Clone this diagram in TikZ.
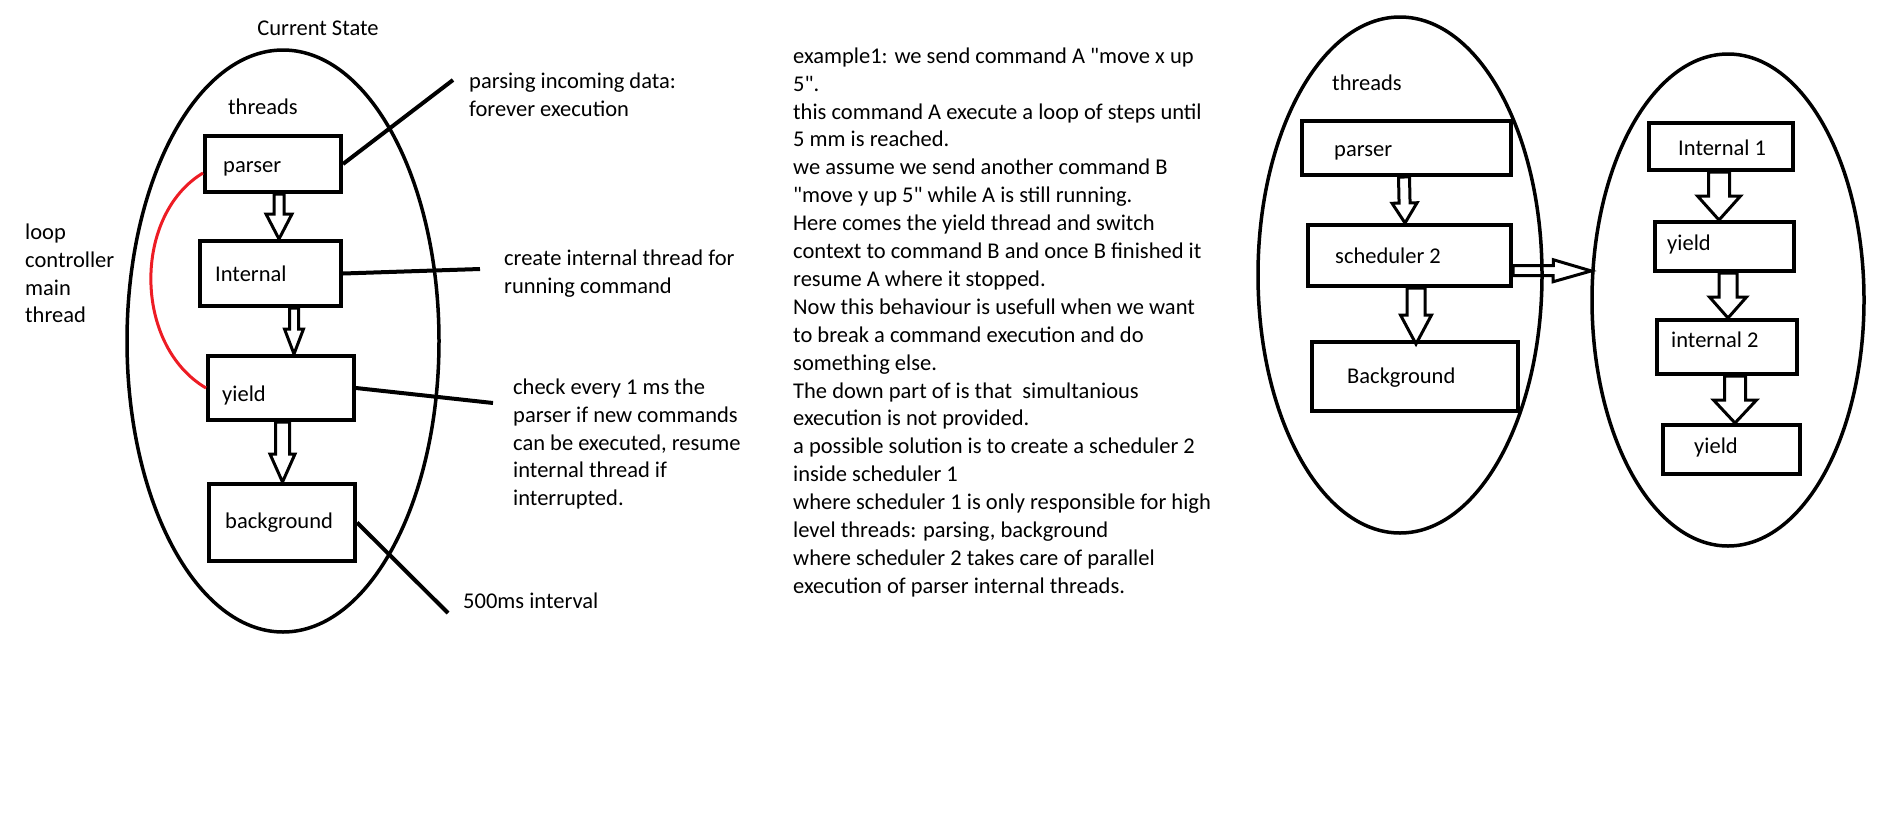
\documentclass[tikz,border=0pt]{standalone}
\usepackage{fontspec}
\newfontfamily\calfont{Carlito}
\usetikzlibrary{calc,shapes.geometric}
\definecolor{paintred}{RGB}{237,28,36}
\newcommand\barrow[5]{%
  \path #1 coordinate (ba-s);
  \path #2 coordinate (ba-t);
  \path ($(ba-t)!#5!(ba-s)$) coordinate (ba-h);
  \draw[blkarr] ($(ba-s)!#3!90:(ba-t)$) -- ($(ba-h)!#3!90:(ba-t)$) -- ($(ba-h)!#4!90:(ba-t)$) -- (ba-t) -- ($(ba-h)!#4!-90:(ba-t)$) -- ($(ba-h)!#3!-90:(ba-t)$) -- ($(ba-s)!#3!-90:(ba-t)$) -- cycle;
}
\tikzset{
  box/.style={draw, rectangle, line width=4pt, inner sep=0pt},
  oval/.style={draw, ellipse, line width=3.5pt, inner sep=0pt},
  blkarr/.style={draw, line width=3pt, line join=miter},
  lbl/.style={inner sep=0pt, font=\calfont\fontsize{22.5}{27.9}\selectfont},
  para/.style={lbl, align=left, anchor=north west},
  conn/.style={line width=4pt},
  loopc/.style={line width=3pt, draw=paintred},
}
\begin{document}
\begin{tikzpicture}[x=1pt, y=-1pt]
\useasboundingbox (0,0) rectangle (1879,836);
% ---------- left diagram ----------
\node[oval, minimum width=312pt, minimum height=582pt] (lell) at (283,341) {};
\node[lbl, anchor=base] (cs) at (318,35) {Current State};
\node[lbl, anchor=base west] (thr1) at (228,114) {threads};
\node[box, minimum width=136pt, minimum height=56pt] (parser) at (273,164) {};
\node[box, minimum width=141pt, minimum height=65pt] (internal) at (270.5,273.5) {};
\node[box, minimum width=146pt, minimum height=64pt] (yield) at (281,388) {};
\node[box, minimum width=146pt, minimum height=77pt] (bg) at (282,522.5) {};
\node[lbl, anchor=base west] (tparser) at (223,172) {parser};
\node[lbl, anchor=base west] (tinternal) at (215,281) {Internal};
\node[lbl, anchor=base west] (tyield) at (222,401) {yield};
\node[lbl, anchor=base west] (tbg) at (225,528) {background};
\barrow{($(parser.south)+(6,0)$)}{($(internal.north)+(8.5,0)$)}{5pt}{13pt}{25pt}
\barrow{($(internal.south)+(23.5,0)$)}{($(yield.north)+(13,0)$)}{4.5pt}{9.5pt}{25pt}
\barrow{($(yield.south)+(1.5,0)$)}{($(bg.north)+(0.5,0)$)}{7pt}{12.5pt}{28pt}
\draw[loopc] ($(parser.west)+(0,9)$) .. controls +(-70,42) and +(-73,-43) .. (yield.west);
\node[para] (tloop) at (25,219.5) {\strut loop\\controller\\main\\thread};
% connectors to notes
\coordinate (cp) at (453,80);
\coordinate (ci) at (480,269);
\coordinate (cy) at (493,403);
\coordinate (cb) at (448,613);
\draw[conn] (parser.east) -- (cp);
\draw[conn] (internal.east) -- (ci);
\draw[conn] (yield.east) -- (cy);
\draw[conn] (bg.east) -- (cb);
\node[para] (nparse) at (469,68.5) {\strut parsing incoming data:\\forever execution};
\node[para] (ncreate) at (504,245.5) {\strut create internal thread for\\running command};
\node[para] (ncheck) at (513,374.5) {\strut check every 1 ms the\\parser if new commands\\can be executed, resume\\internal thread if\\interrupted.};
\node[lbl, anchor=base west] (ninterval) at (463,608) {500ms interval};
% ---------- middle text ----------
\node[para] (mid) at (793,43.5) {\strut example1: we send command A "move x up\\5".\\this command A execute a loop of steps until\\5 mm is reached.\\we assume we send another command B\\"move y up 5" while A is still running.\\Here comes the yield thread and switch\\context to command B and once B finished it\\resume A where it stopped.\\Now this behaviour is usefull when we want\\to break a command execution and do\\something else.\\The down part of is that~ simultanious\\execution is not provided.\\a possible solution is to create a scheduler 2\\inside scheduler 1\\where scheduler 1 is only responsible for high\\level threads: parsing, background\\where scheduler 2 takes care of parallel\\execution of parser internal threads.};
% ---------- right diagram ----------
\node[oval, minimum width=284pt, minimum height=516pt] (mell) at (1400,275) {};
\node[oval, minimum width=272pt, minimum height=492pt] (rell) at (1728,300) {};
\node[lbl, anchor=base west] (thr2) at (1332,90) {threads};
\node[box, minimum width=209pt, minimum height=54pt] (parser2) at (1406.5,148) {};
\node[box, minimum width=203pt, minimum height=61pt] (sched) at (1409.5,255.5) {};
\node[box, minimum width=206pt, minimum height=69pt] (bg2) at (1415,376.5) {};
\node[lbl, anchor=base west] (tparser2) at (1334,156) {parser};
\node[lbl, anchor=base west] (tsched) at (1335,263) {scheduler 2};
\node[lbl, anchor=base west] (tbg2) at (1347,383) {Background};
\node[box, minimum width=144pt, minimum height=47pt] (int1) at (1721,146.5) {};
\node[box, minimum width=139pt, minimum height=49pt] (y1) at (1724.5,246.5) {};
\node[box, minimum width=140pt, minimum height=54pt] (int2) at (1727,347) {};
\node[box, minimum width=137pt, minimum height=49pt] (y2) at (1731.5,449.5) {};
\node[lbl, anchor=base west] (tint1) at (1678,155) {Internal 1};
\node[lbl, anchor=base west] (ty1) at (1667,250) {yield};
\node[lbl, anchor=base west] (tint2) at (1671,347) {internal 2};
\node[lbl, anchor=base west] (ty2) at (1694,453) {yield};
\barrow{($(parser2.south)+(-2.5,0)$)}{($(sched.north)+(-4.5,0)$)}{5.5pt}{12.5pt}{20pt}
\barrow{($(sched.south)+(6.5,0)$)}{($(bg2.north)+(1,4)$)}{9pt}{15.5pt}{29pt}
\barrow{($(sched.east)+(0,15)$)}{(rell.168)}{5pt}{11pt}{38pt}
\barrow{($(int1.south)+(-2,0)$)}{($(y1.north)+(-5.5,0)$)}{10.5pt}{21.5pt}{24pt}
\barrow{($(y1.south)+(3.5,0)$)}{($(int2.north)+(1,0)$)}{9pt}{18.5pt}{21pt}
\barrow{($(int2.south)+(8,0)$)}{($(y2.north)+(3.5,0)$)}{10.5pt}{21.5pt}{23pt}
\end{tikzpicture}
\end{document}
